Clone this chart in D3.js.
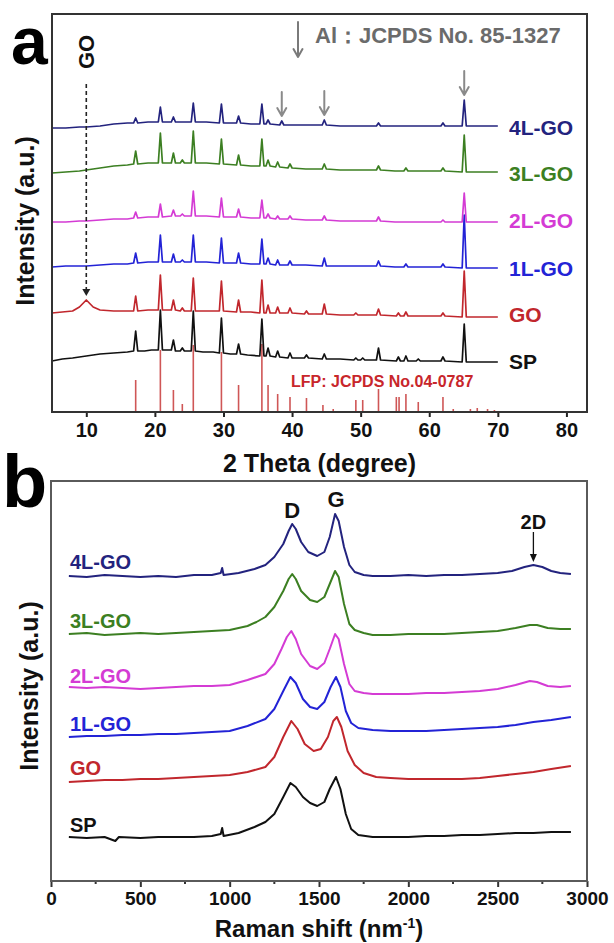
<!DOCTYPE html>
<html><head><meta charset="utf-8">
<script src="https://cdn.jsdelivr.net/npm/d3@7/dist/d3.min.js"></script>
<style>
body{margin:0;background:#fff}
text{font-family:"Liberation Sans",Arial,Helvetica,sans-serif;font-weight:bold}
</style>
</head><body>
<svg id="c" width="614" height="943"></svg>
<script>
// ---------------- Panel a : XRD ----------------
const xrdSeriesNames = ["SP","GO","1L-GO","2L-GO","3L-GO","4L-GO"];
const xrdColors = ["#111111","#c1272d","#2323d6","#d43bd4","#3c7f22","#23237e"];
const xrdTicks = [10,20,30,40,50,60,70,80];

const xrdSP = [[5,51],[6.5,53],[8,54],[10,56],[12,58],[14,59],[16,60],[16.9,61],[17.2,81],[17.5,61],[18.5,61],[19.5,62],[20.5,62],[20.8,102],[21.1,62],[22.4,62],[22.7,72],[23,61],[23.7,61],[24,64],[24.3,61],[25.3,61],[25.6,101],[25.9,61],[27,60],[28.5,60],[29.4,59],[29.7,94],[30,59],[31,58],[31.9,58],[32.2,68],[32.5,58],[33.5,57],[35.3,56],[35.6,93],[35.9,56],[36.2,56],[36.5,64],[36.8,56],[37.6,55],[37.9,61],[38.2,55],[39.4,54],[39.7,59],[40,54],[41.8,54],[42.1,57],[42.4,54],[44.4,53],[44.7,58],[45,53],[47,53],[49,52],[49.3,54],[49.6,52],[50,52],[50.3,54],[50.6,52],[52.3,52],[52.6,64],[52.9,52],[55.2,51],[55.5,55],[55.8,51],[56.3,51],[56.6,56],[56.9,51],[58.1,51],[58.4,53],[58.7,51],[61.7,51],[62,55],[62.3,51],[64.8,50],[65.1,88],[65.4,50],[67,50],[68.5,50],[70,50]];
const xrdGO = [[5,99],[6.5,100],[8,101],[9,105],[10,112],[11,105],[12,102],[14,101],[16,101],[16.9,101],[17.2,116],[17.5,101],[19,102],[20.5,102],[20.8,137],[21.1,102],[22.4,102],[22.7,112],[23,102],[23.7,101],[24,104],[24.3,101],[25.3,101],[25.6,134],[25.9,101],[27.5,101],[29.4,101],[29.7,131],[30,101],[31.9,100],[32.2,112],[32.5,100],[34,100],[35.3,99],[35.6,132],[35.9,99],[36.2,99],[36.5,107],[36.8,99],[37.6,99],[37.9,105],[38.2,99],[39.4,99],[39.7,104],[40,99],[41.8,98],[42.1,101],[42.4,98],[44.4,98],[44.7,108],[45,98],[47,97],[49,97],[49.3,99],[49.6,97],[52.3,97],[52.6,103],[52.9,97],[55.2,96],[55.5,99],[55.8,96],[56.3,96],[56.6,100],[56.9,96],[59,96],[61.7,96],[62,99],[62.3,96],[64.8,95],[65.1,141],[65.4,95],[67,95],[70,95]];
const xrd1L = [[5,145],[7,146],[9,146],[10,146],[12,147],[14,148],[16,148],[16.9,149],[17.2,159],[17.5,149],[19,150],[20.5,150],[20.8,177],[21.1,150],[22.4,150],[22.7,158],[23,150],[23.7,150],[24,152],[24.3,150],[25.3,150],[25.6,177],[25.9,150],[27.5,150],[29.4,149],[29.7,174],[30,149],[31.9,149],[32.2,159],[32.5,149],[34,148],[35.3,148],[35.6,173],[35.9,148],[36.2,148],[36.5,154],[36.8,148],[37.6,147],[37.9,152],[38.2,147],[39.4,147],[39.7,151],[40,147],[42,147],[44.4,146],[44.7,154],[45,146],[47,146],[49,146],[52.3,146],[52.6,151],[52.9,146],[55,145],[56.3,145],[56.6,148],[56.9,145],[59,145],[61.7,145],[62,148],[62.3,145],[64.8,144],[65.1,197],[65.4,144],[67,144],[70,144]];
const xrd2L = [[5,190],[7,190],[9,191],[10,191],[12,192],[14,193],[16,193],[16.9,194],[17.2,200],[17.5,194],[19,195],[20.5,195],[20.8,208],[21.1,195],[22.4,196],[22.7,202],[23,196],[23.7,196],[24,198],[24.3,196],[25.3,196],[25.6,221],[25.9,196],[27.5,196],[29.4,195],[29.7,214],[30,195],[31.9,195],[32.2,203],[32.5,195],[34,194],[35.3,194],[35.6,212],[35.9,194],[36.2,194],[36.5,198],[36.8,194],[37.6,193],[37.9,196],[38.2,193],[39.4,193],[39.7,196],[40,193],[42,192],[44.4,192],[44.7,196],[45,192],[47,191],[50,191],[52.3,191],[52.6,195],[52.9,191],[55,190],[58,190],[61.7,190],[62,192],[62.3,190],[64.8,190],[65.1,219],[65.4,190],[67,190],[70,190]];
const xrd3L = [[5,239],[7,240],[9,241],[10,242],[12,244],[14,246],[16,247],[16.9,248],[17.2,261],[17.5,248],[19,249],[20.5,249],[20.8,279],[21.1,249],[22.4,249],[22.7,259],[23,249],[23.7,249],[24,252],[24.3,249],[25.3,249],[25.6,281],[25.9,249],[27.5,249],[29.4,248],[29.7,273],[30,248],[31.9,247],[32.2,257],[32.5,247],[34,246],[35.3,246],[35.6,273],[35.9,246],[36.2,246],[36.5,252],[36.8,246],[37.6,245],[37.9,250],[38.2,245],[39.4,244],[39.7,248],[40,244],[42,243],[44.4,243],[44.7,248],[45,243],[47,242],[50,242],[52.3,242],[52.6,246],[52.9,242],[55,241],[56.3,241],[56.6,244],[56.9,241],[59,241],[61.7,241],[62,244],[62.3,241],[64.8,240],[65.1,277],[65.4,240],[67,240],[70,240]];
const xrd4L = [[5,284],[7,284],[9,285],[10,285],[12,286],[14,288],[16,289],[16.9,289],[17.2,294],[17.5,289],[19,290],[20.5,290],[20.8,305],[21.1,290],[22.4,290],[22.7,295],[23,290],[25.3,290],[25.6,309],[25.9,290],[27.5,290],[29.4,289],[29.7,308],[30,289],[31.9,289],[32.2,296],[32.5,289],[34,288],[35.3,288],[35.6,308],[35.9,288],[36.2,288],[36.5,292],[36.8,288],[38.2,287],[38.5,291],[38.8,287],[40,287],[42,287],[44.4,287],[44.7,292],[45,287],[47,286],[50,286],[52.3,286],[52.6,289],[52.9,286],[55,286],[58,286],[61.7,286],[62,289],[62.3,286],[64.8,286],[65.1,312],[65.4,286],[67,286],[70,286]];
const xrdData = [xrdSP, xrdGO, xrd1L, xrd2L, xrd3L, xrd4L];
// label vertical anchor (intensity units) for each XRD series
const xrdLabelLevel = [51, 98, 144, 192, 239, 285];

// LFP reference pattern (JCPDS No.04-0787)
const lfpPos =    [17.2,20.8,22.7,24.0,25.6,29.7,32.2,35.6,36.5,37.9,39.7,42.1,44.5,46.0,49.3,50.3,52.6,55.2,55.6,56.6,58.4,62.0,63.5,66.0,67.0,68.5,69.5];
const lfpHeight = [32,  62,  22,  8,   67,  60,  27,  68,  27,  18,  15,  14,  7,   3,   12,  12,  23,  15,  15,  18,  10,  15,  3,   3,   4,   3,   2];

// Al reference peaks (JCPDS No. 85-1327), arrow tips in intensity units
const alPos = [38.5, 44.7, 65.1];
const alTip = [296, 297, 317];

// GO (001) peak marker
const goPeakPos = 10;
const goPeakTip = 116;

// ---------------- Panel b : Raman ----------------
const ramanNames = ["SP","GO","1L-GO","2L-GO","3L-GO","4L-GO"];
const ramanColors = ["#111111","#c1272d","#2323d6","#d43bd4","#3c7f22","#23237e"];
const ramanTicks = [0,500,1000,1500,2000,2500,3000];
const ramanMinorTicks = [250,750,1250,1750,2250,2750];

const ramanSP = [[100,44],[200,43],[300,44],[360,40],[380,44],[500,43],[600,44],[700,44],[800,44],[900,45],[950,47],[958,53],[966,45],[1050,48],[1139,54],[1200,59],[1250,67],[1300,84],[1340,98],[1370,94],[1410,84],[1450,78],[1490,75],[1530,79],[1560,92],[1595,104],[1620,92],[1650,67],[1680,52],[1720,46],[1800,44],[1900,44],[2000,44],[2100,45],[2200,45],[2300,46],[2400,46],[2500,47],[2600,48],[2700,48],[2800,49],[2910,49]];
const ramanGO = [[100,99],[200,100],[300,101],[400,101],[500,102],[600,102],[700,103],[800,104],[900,105],[1000,106],[1100,109],[1200,114],[1250,124],[1300,144],[1345,160],[1380,152],[1420,137],[1470,130],[1510,132],[1550,144],[1580,160],[1600,164],[1625,154],[1660,130],[1700,116],[1750,108],[1820,104],[1900,103],[2000,102],[2100,102],[2200,102],[2300,102],[2400,103],[2500,105],[2600,107],[2700,109],[2800,112],[2910,115]];
const raman1L = [[100,144],[200,145],[300,145],[400,146],[500,146],[600,147],[700,147],[800,148],[900,149],[1000,150],[1100,155],[1200,162],[1250,172],[1300,190],[1340,204],[1370,198],[1410,182],[1450,174],[1490,172],[1530,179],[1565,194],[1595,204],[1620,194],[1650,170],[1680,158],[1720,153],[1800,151],[1900,150],[2000,150],[2100,150],[2200,151],[2300,152],[2400,153],[2500,154],[2600,156],[2700,159],[2800,161],[2910,164]];
const raman2L = [[100,194],[200,193],[300,194],[400,193],[500,192],[600,193],[700,194],[800,195],[900,195],[1000,196],[1100,201],[1200,207],[1250,217],[1290,232],[1320,244],[1345,250],[1370,242],[1400,227],[1450,215],[1490,212],[1530,218],[1560,232],[1590,247],[1610,242],[1640,217],[1670,197],[1700,190],[1750,188],[1800,187],[1900,187],[2000,187],[2100,188],[2200,188],[2300,189],[2400,190],[2500,192],[2600,196],[2680,200],[2720,199],[2780,195],[2850,194],[2910,195]];
const raman3L = [[100,247],[200,248],[300,246],[400,247],[500,248],[600,247],[700,248],[800,249],[900,250],[1000,251],[1100,255],[1150,259],[1200,264],[1250,274],[1300,290],[1330,302],[1350,307],[1370,302],[1400,290],[1450,281],[1490,279],[1530,284],[1560,297],[1590,310],[1610,304],[1640,277],[1670,257],[1700,251],[1750,248],[1800,246],[1900,246],[2000,247],[2100,247],[2200,247],[2300,248],[2400,249],[2500,250],[2600,253],[2680,256],[2720,256],[2780,253],[2850,252],[2910,252]];
const raman4L = [[100,305],[200,304],[300,306],[400,305],[500,304],[600,305],[700,304],[800,306],[900,306],[950,308],[958,313],[966,306],[1050,308],[1139,312],[1200,316],[1250,324],[1300,337],[1330,350],[1350,357],[1370,352],[1400,339],[1440,329],[1490,325],[1530,329],[1560,344],[1590,367],[1610,360],[1640,334],[1670,316],[1700,309],[1750,306],[1800,305],[1900,305],[2000,306],[2100,305],[2200,306],[2300,306],[2400,307],[2500,308],[2580,310],[2650,314],[2700,316],[2750,314],[2800,310],[2850,308],[2910,307]];
const ramanData = [ramanSP, ramanGO, raman1L, raman2L, raman3L, raman4L];
const ramanLabelLevel = [56, 113, 157, 205, 260, 319];

const ramanBands = ["D","G","2D"];
const ramanBandPos = [1350, 1595, 2700];

// ================= drawing =================
const svg = d3.select("#c");
svg.append("rect").attr("width",614).attr("height",943).attr("fill","#fff");

// ---- Panel a
const xa = d3.scaleLinear().domain([5,83]).range([52,587]);
const ya = d3.scaleLinear().domain([0,398]).range([412,14]);
const ga = svg.append("g");

// LFP sticks
ga.selectAll("line.lfp").data(lfpPos).join("line")
  .attr("x1",d=>xa(d)).attr("x2",d=>xa(d))
  .attr("y1",ya(0)).attr("y2",(d,i)=>ya(lfpHeight[i]))
  .attr("stroke","#cf5656").attr("stroke-width",1.6);

const lineA = d3.line().x(d=>xa(d[0])).y(d=>ya(d[1]));
ga.selectAll("path.xrd").data(xrdData).join("path")
  .attr("d",lineA).attr("fill","none")
  .attr("stroke",(d,i)=>xrdColors[i]).attr("stroke-width",1.7)
  .attr("stroke-linejoin","round");

// series labels
ga.selectAll("text.lab").data(xrdSeriesNames).join("text")
  .attr("x",509).attr("y",(d,i)=>ya(xrdLabelLevel[i]))
  .attr("dy","0.36em").attr("font-size",21)
  .attr("fill",(d,i)=>xrdColors[i]).text(d=>d);

ga.append("text").attr("x",291).attr("y",ya(31)).attr("dy","0.36em")
  .attr("font-size",16).attr("fill","#c8262b").text("LFP: JCPDS No.04-0787");

// Al arrows
function arrowDown(g, x, yTop, yTip, color, w){
  g.append("path")
   .attr("d",`M${x},${yTop}L${x},${yTip}M${x-4.5},${yTip-8}L${x},${yTip}L${x+4.5},${yTip-8}`)
   .attr("fill","none").attr("stroke",color).attr("stroke-width",w)
   .attr("stroke-linecap","round").attr("stroke-linejoin","round");
}
alPos.forEach((p,i)=>arrowDown(ga, xa(p), ya(alTip[i])-24, ya(alTip[i]), "#8a8a8a", 2));
arrowDown(ga, 298, 22, 57, "#7a7a7a", 2);
ga.append("text").attr("x",315).attr("y",43).attr("font-size",22)
  .attr("fill","#6b6b6b").text("Al\uFF1AJCPDS No. 85-1327");

// GO dashed arrow
const gx = xa(goPeakPos);
ga.append("line").attr("x1",gx).attr("x2",gx).attr("y1",84).attr("y2",ya(goPeakTip)-6)
  .attr("stroke","#222").attr("stroke-width",1.6).attr("stroke-dasharray","4,3");
ga.append("path").attr("d",`M${gx-4},${ya(goPeakTip)-7}L${gx+4},${ya(goPeakTip)-7}L${gx},${ya(goPeakTip)}Z`)
  .attr("fill","#222");
ga.append("text").attr("transform",`translate(${gx},52) rotate(-90)`)
  .attr("text-anchor","middle").attr("dy","0.36em").attr("font-size",22)
  .attr("fill","#111").text("GO");

// axis a
const axA = ga.append("g").attr("transform",`translate(0,${ya(0)})`)
  .call(d3.axisBottom(xa).tickValues(xrdTicks).tickFormat(d3.format("d")).tickSize(5).tickSizeOuter(0).tickPadding(6));
axA.select(".domain").remove();
axA.selectAll("line").attr("stroke","#222").attr("stroke-width",2);
axA.selectAll("text").attr("font-size",20).attr("fill","#111")
  .attr("font-family","'Liberation Sans',Arial,sans-serif").attr("font-weight","bold");
ga.append("rect").attr("x",52).attr("y",14).attr("width",535).attr("height",398)
  .attr("fill","none").attr("stroke","#333").attr("stroke-width",2);
ga.append("text").attr("x",319.5).attr("y",472).attr("text-anchor","middle")
  .attr("font-size",25).attr("fill","#111").text("2 Theta (degree)");
ga.append("text").attr("transform","translate(25,221) rotate(-90)")
  .attr("text-anchor","middle").attr("dy","0.36em").attr("font-size",25)
  .attr("fill","#111").text("Intensity (a.u.)");
svg.append("text").attr("x",11).attr("y",64).attr("font-size",66).attr("fill","#000").text("a");

// ---- Panel b
const xb = d3.scaleLinear().domain([0,3000]).range([51,587]);
const yb = d3.scaleLinear().domain([0,400]).range([881,481]);
const gb = svg.append("g");
const lineB = d3.line().x(d=>xb(d[0])).y(d=>yb(d[1]));
gb.selectAll("path.ram").data(ramanData).join("path")
  .attr("d",lineB).attr("fill","none")
  .attr("stroke",(d,i)=>ramanColors[i]).attr("stroke-width",2)
  .attr("stroke-linejoin","round");
gb.selectAll("text.lab").data(ramanNames).join("text")
  .attr("x",70).attr("y",(d,i)=>yb(ramanLabelLevel[i]))
  .attr("dy","0.36em").attr("font-size",20)
  .attr("fill",(d,i)=>ramanColors[i]).text(d=>d);

// band labels
const bandLabelY = [510, 499, 522];
const bandFont = [22, 22, 20];
gb.selectAll("text.band").data(ramanBands).join("text")
  .attr("x",(d,i)=>xb(ramanBandPos[i])).attr("y",(d,i)=>bandLabelY[i])
  .attr("dy","0.36em").attr("text-anchor","middle")
  .attr("font-size",(d,i)=>bandFont[i]).attr("fill","#111").text(d=>d);
const ax2 = xb(ramanBandPos[2]);
gb.append("line").attr("x1",ax2).attr("x2",ax2).attr("y1",532).attr("y2",556)
  .attr("stroke","#111").attr("stroke-width",1.3);
gb.append("path").attr("d",`M${ax2-3.5},${554}L${ax2+3.5},${554}L${ax2},${562}Z`).attr("fill","#111");

const axB = gb.append("g").attr("transform",`translate(0,${yb(0)})`)
  .call(d3.axisBottom(xb).tickValues(ramanTicks).tickFormat(d3.format("d")).tickSize(6).tickSizeOuter(0).tickPadding(5));
axB.select(".domain").remove();
axB.selectAll("line").attr("stroke","#333").attr("stroke-width",2);
axB.selectAll("text").attr("font-size",19).attr("fill","#111")
  .attr("font-family","'Liberation Sans',Arial,sans-serif").attr("font-weight","bold");
gb.selectAll("line.minor").data(ramanMinorTicks).join("line")
  .attr("x1",d=>xb(d)).attr("x2",d=>xb(d)).attr("y1",yb(0)).attr("y2",yb(0)+3)
  .attr("stroke","#333").attr("stroke-width",2);
gb.append("rect").attr("x",51).attr("y",481).attr("width",536).attr("height",400)
  .attr("fill","none").attr("stroke","#5a5a5a").attr("stroke-width",2);
const tB = gb.append("text").attr("x",319).attr("y",937).attr("text-anchor","middle")
  .attr("font-size",24).attr("fill","#111");
tB.append("tspan").text("Raman shift (nm");
tB.append("tspan").attr("dy",-9).attr("font-size",14).text("-1");
tB.append("tspan").attr("dy",9).text(")");
gb.append("text").attr("transform","translate(29,686) rotate(-90)")
  .attr("text-anchor","middle").attr("dy","0.36em").attr("font-size",25)
  .attr("fill","#111").text("Intensity (a.u.)");
svg.append("text").attr("x",2).attr("y",507).attr("font-size",74).attr("fill","#000").text("b");
</script>
</body></html>
